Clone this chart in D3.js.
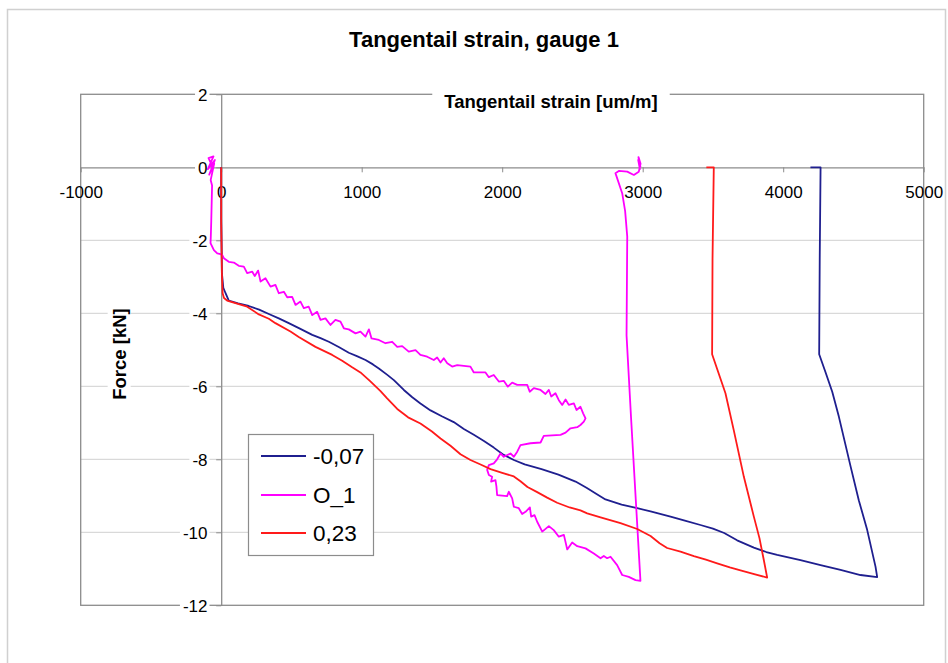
<!DOCTYPE html>
<html>
<head>
<meta charset="utf-8">
<script src="https://cdn.jsdelivr.net/npm/d3@7"></script>
<style>
  html, body { margin: 0; padding: 0; background: #fff; }
  svg { display: block; font-family: "Liberation Sans", Arial, sans-serif; }
</style>
</head>
<body>
<svg id="chart" width="948" height="663"></svg>
<script>
// Axis tick values
const strainTicks = [-1000, 0, 1000, 2000, 3000, 4000, 5000];
const forceTicks = [2, 0, -2, -4, -6, -8, -10, -12];

// Series names shown in the legend
const seriesNames = ["-0,07", "O_1", "0,23"];
const seriesColors = ["#1f1f8f", "#ff00ff", "#ff1a1a"];

// Series "-0,07": [strain (um/m), force (kN)]
const seriesA = [
  [0,0],[0,-1.4],[5,-2.9],[15,-3.3],[31,-3.45],[54,-3.65],[120,-3.73],[196,-3.80],[270,-3.90],
  [339,-4.02],[410,-4.14],[481,-4.27],[560,-4.42],[648,-4.59],[707,-4.68],[766,-4.78],[840,-4.93],
  [908,-5.08],[970,-5.18],[1027,-5.28],[1080,-5.40],[1122,-5.51],[1180,-5.68],[1229,-5.83],
  [1300,-6.10],[1360,-6.30],[1418,-6.47],[1490,-6.66],[1570,-6.82],[1655,-6.98],[1727,-7.17],
  [1798,-7.33],[1870,-7.50],[1940,-7.68],[2011,-7.88],[2083,-8.02],[2160,-8.14],[2280,-8.27],
  [2400,-8.42],[2522,-8.61],[2600,-8.78],[2680,-8.97],[2735,-9.10],[2850,-9.24],[2961,-9.34],
  [3056,-9.43],[3198,-9.57],[3300,-9.68],[3411,-9.80],[3500,-9.90],[3580,-10.02],[3672,-10.22],
  [3791,-10.42],[3880,-10.54],[3957,-10.62],[4123,-10.76],[4266,-10.90],[4408,-11.03],[4550,-11.17],
  [4669,-11.23],
  [4657,-10.94],[4598,-9.94],[4538,-9.12],[4480,-8.20],[4396,-6.83],[4349,-6.15],[4300,-5.60],
  [4256,-5.12],[4260,-2.5],[4266,0],[4194,0]
];

// Series "O_1"
const seriesB = [
  [-60,0],[-90,0.25],[-55,0.3],[-95,-0.05],[-45,0.2],[-85,-0.2],[-50,0.1],[-75,-0.35],[-65,-0.5],
  [-68,-1.0],[-71,-1.5],[-74,-1.9],[-76,-2.08],[-52,-2.27],[-28,-2.36],[-5,-2.38],[7,-2.40],
  [19,-2.49],[54,-2.59],[90,-2.61],[125,-2.70],[161,-2.72],[185,-2.90],[221,-2.86],[239,-2.98],
  [263,-2.83],[280,-3.13],[315,-3.04],[351,-3.27],[386,-3.22],[410,-3.45],[446,-3.41],[470,-3.56],
  [505,-3.55],[529,-3.77],[564,-3.68],[588,-3.86],[623,-3.82],[648,-4.05],[683,-3.96],[707,-4.18],
  [742,-4.14],[778,-4.32],[813,-4.18],[849,-4.23],[873,-4.41],[908,-4.44],[956,-4.55],[991,-4.50],
  [1027,-4.64],[1051,-4.44],[1070,-4.69],[1122,-4.73],[1169,-4.82],[1217,-4.78],[1253,-4.92],
  [1288,-4.90],[1335,-5.05],[1383,-5.01],[1418,-5.14],[1466,-5.19],[1513,-5.28],[1537,-5.21],
  [1561,-5.35],[1584,-5.23],[1609,-5.37],[1644,-5.46],[1680,-5.42],[1727,-5.44],[1774,-5.46],
  [1798,-5.62],[1881,-5.62],[1905,-5.75],[1940,-5.69],[1976,-5.87],[2011,-5.85],[2040,-6.01],
  [2071,-5.90],[2107,-5.96],[2178,-5.96],[2196,-6.15],[2225,-6.05],[2273,-6.10],[2308,-6.21],
  [2332,-6.10],[2349,-6.28],[2379,-6.19],[2403,-6.38],[2427,-6.51],[2451,-6.36],[2474,-6.51],
  [2510,-6.47],[2529,-6.65],[2557,-6.56],[2576,-6.74],[2593,-6.88],[2581,-6.97],[2557,-7.06],
  [2534,-7.12],[2486,-7.15],[2451,-7.27],[2415,-7.33],[2296,-7.36],[2273,-7.54],[2201,-7.56],
  [2130,-7.61],[2107,-7.79],[2083,-7.93],[2059,-7.84],[2011,-7.93],[1988,-7.84],[1964,-8.00],
  [1940,-8.11],[1905,-8.16],[1893,-8.29],[1905,-8.43],[1928,-8.48],[1921,-8.61],[1952,-8.57],
  [1959,-8.75],[1964,-8.98],[2035,-9.01],[2047,-8.89],[2071,-9.07],[2083,-9.30],[2118,-9.34],
  [2142,-9.50],[2166,-9.44],[2197,-9.32],[2206,-9.57],[2230,-9.53],[2249,-9.71],[2285,-9.98],
  [2332,-9.83],[2367,-9.94],[2403,-10.12],[2439,-10.07],[2463,-10.47],[2498,-10.28],[2534,-10.38],
  [2593,-10.44],[2652,-10.58],[2700,-10.71],[2723,-10.65],[2747,-10.71],[2771,-10.67],[2818,-10.90],
  [2854,-11.17],[2901,-11.22],[2949,-11.31],[2984,-11.33],
  [2918,-6.92],[2885,-4.60],[2890,-1.90],[2875,-1.20],[2854,-0.71],[2806,-0.16],[2830,-0.10],
  [2890,-0.12],[2937,-0.21],[2972,-0.12],[2985,0.10],[2970,0.28],[2980,-0.05],[2968,0.20],[2985,0.0]
];

// Series "0,23"
const seriesC = [
  [0,0],[0,-1.5],[5,-2.9],[10,-3.45],[20,-3.58],[42,-3.65],[125,-3.75],[185,-3.82],[268,-4.03],
  [339,-4.15],[386,-4.27],[493,-4.50],[552,-4.65],[671,-4.92],[790,-5.14],[861,-5.30],[932,-5.48],
  [991,-5.62],[1060,-5.86],[1134,-6.13],[1181,-6.33],[1253,-6.62],[1330,-6.85],[1418,-7.02],
  [1500,-7.24],[1561,-7.43],[1632,-7.63],[1703,-7.86],[1774,-8.02],[1850,-8.15],[1917,-8.27],
  [2000,-8.37],[2083,-8.47],[2130,-8.60],[2180,-8.76],[2249,-8.90],[2320,-9.05],[2391,-9.19],
  [2480,-9.32],[2557,-9.40],[2605,-9.48],[2700,-9.59],[2842,-9.75],[2961,-9.91],[3056,-10.10],
  [3120,-10.30],[3174,-10.43],[3269,-10.53],[3364,-10.65],[3450,-10.75],[3530,-10.85],[3620,-10.96],
  [3696,-11.04],[3800,-11.15],[3886,-11.24],
  [3862,-10.76],[3831,-10.16],[3791,-9.57],[3720,-8.48],[3648,-7.20],[3589,-6.19],[3494,-5.12],
  [3497,-2.5],[3506,0],[3453,0]
];

const seriesData = [seriesA, seriesB, seriesC];

const svg = d3.select("#chart");

// Outer frame
svg.append("path")
  .attr("d", "M7.5,663 V9.5 H945.5 V663")
  .attr("fill", "none").attr("stroke", "#d0d0d0").attr("stroke-width", 1.5);

// Title
svg.append("text")
  .attr("x", 484).attr("y", 47)
  .attr("text-anchor", "middle")
  .attr("font-size", 22).attr("font-weight", "bold")
  .text("Tangentail strain, gauge 1");

const plot = { left: 80.7, right: 923.7, top: 94.3, bottom: 605.3 };
const x = d3.scaleLinear().domain([-1000, 5000]).range([plot.left, plot.right]);
const y = d3.scaleLinear().domain([-12, 2]).range([plot.bottom, plot.top]);
const plainNumber = d => String(d);

// Horizontal gridlines
svg.append("g").selectAll("line")
  .data(forceTicks.filter(v => v !== 2 && v !== -12 && v !== 0))
  .join("line")
  .attr("x1", plot.left).attr("x2", plot.right)
  .attr("y1", d => y(d)).attr("y2", d => y(d))
  .attr("stroke", "#d9d9d9").attr("stroke-width", 1.2);

// Plot area border
svg.append("rect")
  .attr("x", plot.left).attr("y", plot.top)
  .attr("width", plot.right - plot.left).attr("height", plot.bottom - plot.top)
  .attr("fill", "none").attr("stroke", "#8c8c8c").attr("stroke-width", 1.3);

// X axis through force = 0
const xAxis = svg.append("g")
  .attr("transform", `translate(0,${y(0)})`)
  .call(d3.axisBottom(x).tickValues(strainTicks).tickSize(5).tickSizeOuter(0).tickFormat(plainNumber));
xAxis.select(".domain").attr("stroke", "#8c8c8c").attr("stroke-width", 1.3);
xAxis.selectAll(".tick line").attr("stroke", "#8c8c8c");
xAxis.selectAll(".tick text")
  .attr("y", 31).attr("dy", null)
  .attr("font-size", 17).attr("fill", "#000")
  .attr("font-family", "'Liberation Sans', Arial, sans-serif");

// Y axis through strain = 0
const yAxis = svg.append("g")
  .attr("transform", `translate(${x(0)},0)`)
  .call(d3.axisLeft(y).tickValues(forceTicks).tickSize(5).tickSizeOuter(0).tickFormat(plainNumber));
yAxis.select(".domain").attr("stroke", "#8c8c8c").attr("stroke-width", 1.3);
yAxis.selectAll(".tick line").attr("stroke", "#8c8c8c");
yAxis.selectAll(".tick text")
  .attr("x", -13.7).attr("dy", "0.36em")
  .attr("font-size", 17).attr("fill", "#000")
  .attr("font-family", "'Liberation Sans', Arial, sans-serif");
// white backing behind the force labels
yAxis.selectAll(".tick").each(function () {
  const t = d3.select(this).select("text");
  const b = t.node().getBBox();
  d3.select(this).insert("rect", "text")
    .attr("x", b.x - 3).attr("y", b.y + 1)
    .attr("width", b.width + 5).attr("height", b.height - 2)
    .attr("fill", "#fff");
});

// Axis titles with white backing
function boxedLabel(tx, ty, rot, txt) {
  const g = svg.append("g").attr("transform", `translate(${tx},${ty}) rotate(${rot})`);
  const rect = g.append("rect").attr("fill", "#fff");
  const t = g.append("text")
    .attr("text-anchor", "middle").attr("dy", "0.36em")
    .attr("font-size", 18.5).attr("font-weight", "bold")
    .text(txt);
  const b = t.node().getBBox();
  rect.attr("x", b.x - 12).attr("y", b.y - 1).attr("width", b.width + 24).attr("height", b.height + 2);
}
boxedLabel(551, 101, 0, "Tangentail strain [um/m]");
boxedLabel(119, 354, -90, "Force [kN]");

// Series lines
const line = d3.line().x(d => x(d[0])).y(d => y(d[1]));
svg.append("g").selectAll("path")
  .data(seriesData)
  .join("path")
  .attr("d", line)
  .attr("fill", "none")
  .attr("stroke", (d, i) => seriesColors[i])
  .attr("stroke-width", 1.8)
  .attr("stroke-linejoin", "round");

// Legend
const legend = svg.append("g");
legend.append("rect")
  .attr("x", 248.5).attr("y", 434.5).attr("width", 125).attr("height", 121)
  .attr("fill", "#fff").attr("stroke", "#8c8c8c").attr("stroke-width", 1.2);
const legendY = [456, 495, 533];
seriesNames.forEach((name, i) => {
  legend.append("line")
    .attr("x1", 261).attr("x2", 306)
    .attr("y1", legendY[i]).attr("y2", legendY[i])
    .attr("stroke", seriesColors[i]).attr("stroke-width", 2);
  legend.append("text")
    .attr("x", 313).attr("y", legendY[i]).attr("dy", "0.36em")
    .attr("font-size", 22.5)
    .text(name);
});
</script>
</body>
</html>
